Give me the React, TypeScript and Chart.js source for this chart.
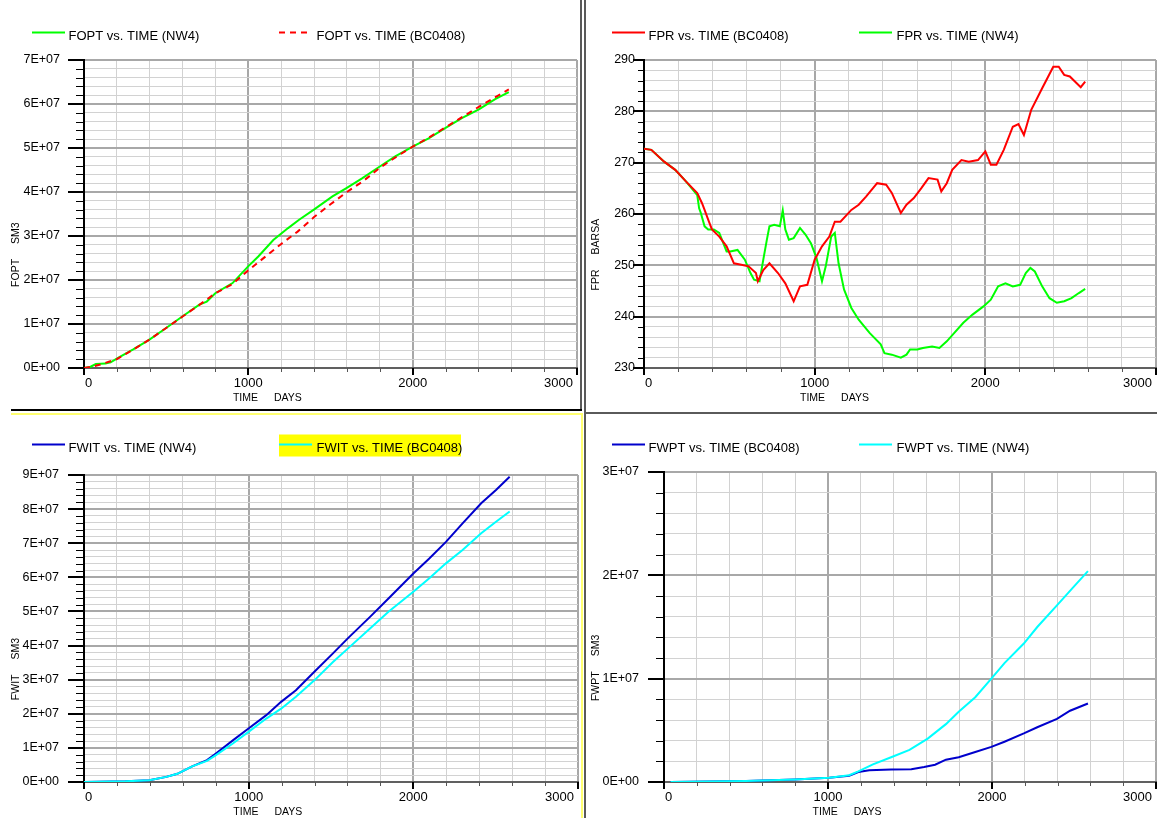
import React, { useEffect, useRef } from 'react';
import { Chart, registerables } from 'chart.js';

Chart.register(...registerables);

// ---------------- data ----------------
const X_TICK_LABELS = [0, 1000, 2000, 3000];

const FOPT_NW4_DAYS = [0, 40, 72, 130, 162, 207, 297, 396, 500, 598, 702, 747, 799, 904, 999, 1062, 1152, 1242, 1309, 1399, 1512, 1597, 1692, 1800, 1894, 2000, 2097, 2198, 2299, 2403, 2502, 2585];
const FOPT_NW4 = [0, 0.3e6, 0.9e6, 1.0e6, 1.3e6, 2.3e6, 4.2e6, 6.4e6, 9.1e6, 11.7e6, 14.4e6, 15.1e6, 17.0e6, 19.3e6, 23.1e6, 25.4e6, 29.1e6, 31.8e6, 33.7e6, 36.0e6, 39.0e6, 40.9e6, 43.1e6, 45.8e6, 48.1e6, 50.3e6, 52.2e6, 54.5e6, 56.8e6, 58.8e6, 61.1e6, 62.7e6];
const FOPT_BC_DAYS = [0, 50, 100, 200, 300, 400, 500, 600, 700, 800, 900, 1000, 1100, 1200, 1300, 1400, 1500, 1600, 1700, 1800, 1900, 2000, 2100, 2200, 2300, 2400, 2500, 2585];
const FOPT_BC = [0, 0.3e6, 0.8e6, 2.0e6, 4.2e6, 6.5e6, 9.1e6, 11.7e6, 14.3e6, 17.0e6, 19.0e6, 22.2e6, 25.2e6, 28.2e6, 31.0e6, 34.3e6, 37.2e6, 40.0e6, 42.5e6, 45.5e6, 48.0e6, 50.3e6, 52.4e6, 54.7e6, 57.0e6, 59.3e6, 61.5e6, 63.3e6];

const FPR_BC_DAYS = [0, 43, 118, 183, 247, 312, 340, 355, 376, 398, 441, 484, 527, 570, 613, 656, 667, 699, 735, 785, 828, 877, 914, 957, 1000, 1043, 1086, 1118, 1151, 1215, 1258, 1301, 1366, 1419, 1452, 1505, 1538, 1581, 1624, 1667, 1720, 1742, 1774, 1806, 1860, 1903, 1957, 2000, 2032, 2065, 2108, 2161, 2194, 2226, 2269, 2333, 2398, 2430, 2462, 2495, 2559, 2585];
const FPR_BC = [272.7, 272.5, 270.2, 268.6, 266.3, 264.1, 262.1, 260.8, 258.9, 257.0, 255.6, 253.7, 250.4, 250.1, 249.8, 248.5, 246.9, 249.1, 250.4, 248.5, 246.5, 243.0, 245.9, 246.2, 251.1, 253.7, 255.6, 258.5, 258.5, 260.8, 261.8, 263.4, 266.0, 265.7, 264.1, 260.2, 261.8, 263.1, 265.0, 267.0, 266.7, 264.4, 266.0, 268.6, 270.5, 270.2, 270.5, 272.2, 269.6, 269.6, 272.5, 277.0, 277.5, 275.4, 280.3, 284.5, 288.7, 288.7, 287.1, 286.8, 284.7, 285.8];
const FPR_NW4_DAYS = [0, 43, 118, 183, 247, 312, 323, 333, 355, 376, 409, 441, 484, 505, 548, 591, 624, 645, 677, 699, 720, 735, 763, 796, 813, 828, 849, 877, 914, 946, 978, 1011, 1043, 1065, 1097, 1118, 1140, 1172, 1215, 1258, 1323, 1387, 1409, 1452, 1505, 1538, 1559, 1602, 1634, 1688, 1731, 1774, 1817, 1871, 1925, 1989, 2032, 2075, 2118, 2161, 2204, 2237, 2264, 2290, 2333, 2376, 2419, 2462, 2505, 2548, 2585];
const FPR_NW4 = [272.7, 272.5, 270.2, 268.6, 266.3, 263.7, 261.1, 260.2, 257.6, 257.0, 257.0, 256.3, 252.7, 252.7, 253.0, 251.1, 248.5, 247.2, 246.9, 251.1, 255.0, 257.6, 257.9, 257.6, 260.7, 257.0, 255.0, 255.3, 257.3, 256.0, 254.3, 251.4, 246.9, 249.8, 255.6, 256.3, 250.4, 245.3, 241.7, 239.4, 236.8, 234.6, 232.9, 232.6, 232.0, 232.6, 233.6, 233.6, 233.9, 234.2, 233.9, 235.2, 236.8, 238.8, 240.4, 242.0, 243.3, 245.9, 246.5, 245.9, 246.2, 248.5, 249.5, 248.8, 245.9, 243.6, 242.7, 243.0, 243.6, 244.6, 245.4];

const FWIT_NW4_DAYS = [0, 252, 396, 500, 567, 657, 747, 799, 904, 999, 1107, 1197, 1287, 1399, 1512, 1602, 1737, 1849, 2000, 2097, 2198, 2299, 2412, 2502, 2585];
const FWIT_NW4 = [0, 0.2e6, 0.5e6, 1.5e6, 2.4e6, 4.6e6, 6.4e6, 8.3e6, 12.2e6, 15.7e6, 19.6e6, 23.5e6, 26.9e6, 32.3e6, 37.7e6, 42.1e6, 48.4e6, 53.8e6, 61.1e6, 65.5e6, 70.4e6, 75.8e6, 81.7e6, 85.6e6, 89.5e6];
const FWIT_BC_DAYS = [0, 252, 396, 500, 567, 657, 747, 799, 904, 999, 1107, 1197, 1287, 1399, 1512, 1602, 1737, 1849, 2000, 2097, 2198, 2299, 2412, 2502, 2585];
const FWIT_BC = [0, 0.2e6, 0.5e6, 1.5e6, 2.4e6, 4.6e6, 6.2e6, 7.8e6, 11.3e6, 14.7e6, 18.6e6, 21.5e6, 25.0e6, 29.8e6, 35.2e6, 39.1e6, 45.0e6, 49.9e6, 55.8e6, 59.7e6, 64.1e6, 68.0e6, 72.9e6, 76.3e6, 79.3e6];

const FWPT_BC_DAYS = [40, 500, 800, 1007, 1129, 1185, 1252, 1385, 1508, 1586, 1653, 1719, 1797, 1898, 1996, 2076, 2194, 2276, 2396, 2476, 2585];
const FWPT_BC = [0, 0.1e6, 0.25e6, 0.42e6, 0.6e6, 0.97e6, 1.13e6, 1.2e6, 1.23e6, 1.45e6, 1.67e6, 2.16e6, 2.4e6, 2.9e6, 3.4e6, 3.9e6, 4.7e6, 5.3e6, 6.1e6, 6.9e6, 7.6e6];
const FWPT_NW4_DAYS = [40, 500, 800, 1007, 1129, 1185, 1274, 1385, 1497, 1608, 1719, 1797, 1898, 1996, 2076, 2194, 2276, 2396, 2499, 2585];
const FWPT_NW4 = [0, 0.1e6, 0.25e6, 0.42e6, 0.65e6, 1.03e6, 1.7e6, 2.4e6, 3.1e6, 4.2e6, 5.6e6, 6.8e6, 8.2e6, 10.0e6, 11.5e6, 13.4e6, 15.0e6, 17.1e6, 18.9e6, 20.4e6];

// ---------------- styling ----------------
const FONT = '"Liberation Sans", Arial, Helvetica, sans-serif';
const GREEN = '#00ff00';
const RED = '#ff0000';
const BLUE = '#0000cc';
const CYAN = '#00ffff';

function sci(v: number): string {
  if (Math.abs(v) < 1e-9) return '0E+00';
  const exp = Math.floor(Math.log10(Math.abs(v)) + 1e-9);
  const mant = Math.round(v / Math.pow(10, exp));
  return `${mant}E+${String(exp).padStart(2, '0')}`;
}
function plain(v: number): string {
  return String(Math.round(v));
}
function isMult(v: number, step: number): boolean {
  const r = v / step;
  return Math.abs(r - Math.round(r)) < 1e-6;
}

type Series = { label: string; days: number[]; values: number[]; color: string; dash?: number[]; order: number };
type Panel = {
  id: string; left: number; top: number; width: number; height: number;
  area: { left: number; top: number; right: number; bottom: number };
  yMin: number; yMax: number; yMajor: number; yMinor: number; fmt: (v: number) => string;
  yTitle: [string, string]; tickMajor: number; tickMinor: number; labelPad: number;
  legendLineY: number; legendTextY: number; highlight?: number;
  series: Series[];
};

const PANELS: Panel[] = [
  {
    id: 'fopt', left: 0, top: 0, width: 580, height: 410,
    area: { left: 84, top: 60, right: 577, bottom: 368 },
    yMin: 0, yMax: 7e7, yMajor: 1e7, yMinor: 2e6, fmt: sci,
    yTitle: ['FOPT', 'SM3'], tickMajor: 16, tickMinor: 8, labelPad: 24,
    legendLineY: 32.5, legendTextY: 36.5,
    series: [
      { label: 'FOPT vs. TIME (NW4)', days: FOPT_NW4_DAYS, values: FOPT_NW4, color: GREEN, order: 2 },
      { label: 'FOPT vs. TIME (BC0408)', days: FOPT_BC_DAYS, values: FOPT_BC, color: RED, dash: [6, 5], order: 1 },
    ],
  },
  {
    id: 'fpr', left: 580, top: 0, width: 577, height: 410,
    area: { left: 64, top: 60, right: 576, bottom: 368 },
    yMin: 230, yMax: 290, yMajor: 10, yMinor: 2, fmt: plain,
    yTitle: ['FPR', 'BARSA'], tickMajor: 11, tickMinor: 6, labelPad: 9,
    legendLineY: 32.5, legendTextY: 36.5,
    series: [
      { label: 'FPR vs. TIME (BC0408)', days: FPR_BC_DAYS, values: FPR_BC, color: RED, order: 1 },
      { label: 'FPR vs. TIME (NW4)', days: FPR_NW4_DAYS, values: FPR_NW4, color: GREEN, order: 2 },
    ],
  },
  {
    id: 'fwit', left: 0, top: 410, width: 580, height: 408,
    area: { left: 84, top: 65, right: 578, bottom: 372 },
    yMin: 0, yMax: 9e7, yMajor: 1e7, yMinor: 2e6, fmt: sci,
    yTitle: ['FWIT', 'SM3'], tickMajor: 16, tickMinor: 8, labelPad: 25,
    legendLineY: 34.5, legendTextY: 38.5, highlight: 1,
    series: [
      { label: 'FWIT vs. TIME (NW4)', days: FWIT_NW4_DAYS, values: FWIT_NW4, color: BLUE, order: 2 },
      { label: 'FWIT vs. TIME (BC0408)', days: FWIT_BC_DAYS, values: FWIT_BC, color: CYAN, order: 1 },
    ],
  },
  {
    id: 'fwpt', left: 580, top: 410, width: 577, height: 408,
    area: { left: 84, top: 62, right: 576, bottom: 372 },
    yMin: 0, yMax: 3e7, yMajor: 1e7, yMinor: 2e6, fmt: sci,
    yTitle: ['FWPT', 'SM3'], tickMajor: 16, tickMinor: 8, labelPad: 25,
    legendLineY: 34.5, legendTextY: 38.5,
    series: [
      { label: 'FWPT vs. TIME (BC0408)', days: FWPT_BC_DAYS, values: FWPT_BC, color: BLUE, order: 2 },
      { label: 'FWPT vs. TIME (NW4)', days: FWPT_NW4_DAYS, values: FWPT_NW4, color: CYAN, order: 1 },
    ],
  },
];

const LEGEND_X = [
  [32, 65, 68.5],
  [279, 312, 316.5],
];

function drawPair(ctx: CanvasRenderingContext2D, a: string, b: string, cx: number, cy: number, gap: number) {
  const wa = ctx.measureText(a).width;
  const wb = ctx.measureText(b).width;
  const start = cx - (wa + gap + wb) / 2;
  ctx.textAlign = 'left';
  ctx.fillText(a, start, cy);
  ctx.fillText(b, start + wa + gap, cy);
}

function makeDecor(p: Panel) {
  return {
    id: 'decor-' + p.id,
    afterDraw(chart: any) {
      const ctx: CanvasRenderingContext2D = chart.ctx;
      const { left, right, top, bottom } = chart.chartArea;
      const xs = chart.scales.x;
      const ys = chart.scales.y;
      ctx.save();
      // y tick marks
      ys.ticks.forEach((t: any) => {
        const y = Math.round(ys.getPixelForValue(t.value));
        const major = isMult(t.value, p.yMajor);
        ctx.strokeStyle = '#000';
        ctx.lineWidth = major ? 2 : 1;
        const yy = major ? y : y + 0.5;
        ctx.beginPath();
        ctx.moveTo(left - (major ? p.tickMajor : p.tickMinor), yy);
        ctx.lineTo(left, yy);
        ctx.stroke();
      });
      // x tick marks
      xs.ticks.forEach((t: any) => {
        const x = Math.round(xs.getPixelForValue(t.value));
        const major = isMult(t.value, 1000);
        ctx.strokeStyle = major ? '#000' : '#555';
        ctx.lineWidth = major ? 2 : 1;
        const xx = major ? x : x + 0.5;
        ctx.beginPath();
        ctx.moveTo(xx, bottom);
        ctx.lineTo(xx, bottom + (major ? 7 : 4));
        ctx.stroke();
      });
      // x tick labels
      ctx.fillStyle = '#000';
      ctx.font = `13px ${FONT}`;
      ctx.textBaseline = 'middle';
      const last = X_TICK_LABELS.length - 1;
      X_TICK_LABELS.forEach((v, i) => {
        const x = xs.getPixelForValue(v);
        if (i === 0) {
          ctx.textAlign = 'left';
          ctx.fillText(String(v), x + 1, bottom + 15);
        } else if (i === last) {
          ctx.textAlign = 'right';
          ctx.fillText(String(v), x - 4, bottom + 15);
        } else {
          ctx.textAlign = 'center';
          ctx.fillText(String(v), x, bottom + 15);
        }
      });
      // axis titles
      ctx.font = `10.5px ${FONT}`;
      drawPair(ctx, 'TIME', 'DAYS', left + 0.372 * (right - left), bottom + 30, 16);
      ctx.save();
      ctx.translate(16, top + 0.632 * (bottom - top));
      ctx.rotate(-Math.PI / 2);
      drawPair(ctx, p.yTitle[0], p.yTitle[1], 0, 0, 15);
      ctx.restore();
      // legend
      ctx.font = `13px ${FONT}`;
      ctx.textAlign = 'left';
      p.series.forEach((s, i) => {
        const [x0, x1, tx] = LEGEND_X[i];
        if (p.highlight === i) {
          ctx.fillStyle = '#ffff00';
          ctx.fillRect(x0, p.legendLineY - 10, 182, 22);
        }
        ctx.strokeStyle = s.color;
        ctx.lineWidth = 2;
        ctx.setLineDash(s.dash || []);
        ctx.beginPath();
        ctx.moveTo(x0, p.legendLineY);
        ctx.lineTo(x1, p.legendLineY);
        ctx.stroke();
        ctx.setLineDash([]);
        ctx.fillStyle = '#000';
        ctx.fillText(s.label, tx, p.legendTextY);
      });
      ctx.restore();
    },
  };
}

function ChartPanel({ p }: { p: Panel }) {
  const ref = useRef<HTMLCanvasElement | null>(null);
  useEffect(() => {
    const canvas = ref.current;
    if (!canvas) return;
    const chart = new Chart(canvas, {
      type: 'line',
      data: {
        datasets: p.series.map((s) => ({
          label: s.label,
          data: s.days.map((d, i) => ({ x: d, y: s.values[i] })),
          borderColor: s.color,
          backgroundColor: s.color,
          borderWidth: 2,
          borderDash: s.dash || [],
          pointRadius: 0,
          tension: 0,
          fill: false,
          order: s.order,
        })),
      },
      options: {
        animation: false,
        responsive: false,
        devicePixelRatio: 1,
        layout: { padding: { left: 0, top: p.area.top, right: p.width - p.area.right, bottom: 0 } },
        plugins: { legend: { display: false }, tooltip: { enabled: false } },
        events: [],
        scales: {
          x: {
            type: 'linear',
            min: 0,
            max: 3000,
            afterFit: (scale: any) => { scale.height = p.height - p.area.bottom; },
            ticks: { stepSize: 200, display: false, autoSkip: false, maxTicksLimit: 1000 },
            grid: {
              drawTicks: false,
              color: (c: any) => (c.tick && isMult(c.tick.value, 1000) ? '#a8a8a8' : '#d2d2d2'),
              lineWidth: (c: any) => (c.tick && isMult(c.tick.value, 1000) ? 2 : 1),
            },
            border: { display: true, color: '#606060', width: 2 },
          },
          y: {
            type: 'linear',
            min: p.yMin,
            max: p.yMax,
            afterFit: (scale: any) => { scale.width = p.area.left; },
            ticks: {
              stepSize: p.yMinor,
              autoSkip: false,
              maxTicksLimit: 1000,
              padding: p.labelPad,
              color: '#000',
              font: { family: FONT, size: 12.5 },
              callback: (v: any) => (isMult(Number(v), p.yMajor) ? p.fmt(Number(v)) : ''),
            },
            grid: {
              drawTicks: false,
              color: (c: any) => (c.tick && isMult(c.tick.value, p.yMajor) ? '#a8a8a8' : '#d2d2d2'),
              lineWidth: (c: any) => (c.tick && isMult(c.tick.value, p.yMajor) ? 2 : 1),
            },
            border: { display: true, color: '#000', width: 2 },
          },
        },
      },
      plugins: [makeDecor(p)],
    } as any);
    return () => chart.destroy();
  }, [p]);
  return (
    <canvas
      ref={ref}
      width={p.width}
      height={p.height}
      style={{ position: 'absolute', left: p.left, top: p.top, width: p.width, height: p.height }}
    />
  );
}

export default function App() {
  const line = (l: number, t: number, w: number, h: number, c: string) => (
    <div style={{ position: 'absolute', left: l, top: t, width: w, height: h, background: c }} />
  );
  return (
    <div style={{ position: 'fixed', left: 0, top: 0, width: 1157, height: 818, overflow: 'hidden', background: '#fff' }}>
      {PANELS.map((p) => (
        <ChartPanel key={p.id} p={p} />
      ))}
      {line(580, 0, 2, 410, '#5a5a5a')}
      {line(584, 0, 2, 818, '#5a5a5a')}
      {line(11, 409, 571, 2, '#000')}
      {line(584, 412, 573, 2, '#5a5a5a')}
      {line(11, 413, 571, 2, '#ffff70')}
      {line(581, 413, 2, 405, '#ffff70')}
    </div>
  );
}
